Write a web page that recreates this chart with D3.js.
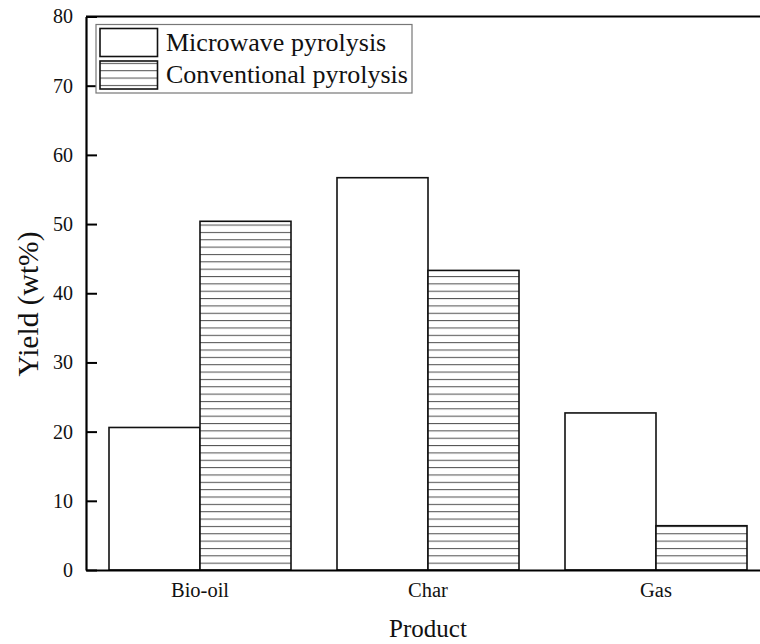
<!DOCTYPE html>
<html>
<head>
<meta charset="utf-8">
<script src="https://cdn.jsdelivr.net/npm/d3@7/dist/d3.min.js"></script>
<style>
  html, body { margin: 0; padding: 0; background: #fff; }
  svg { display: block; font-family: "Liberation Serif", "Times New Roman", serif; }
</style>
</head>
<body>
<svg id="chart" width="760" height="644"></svg>
<script>
const categories = ["Bio-oil", "Char", "Gas"];
const seriesNames = ["Microwave pyrolysis", "Conventional pyrolysis"];
const microwave = [20.6, 56.7, 22.7];
const conventional = [50.4, 43.3, 6.4];
const yTicks = [0, 10, 20, 30, 40, 50, 60, 70, 80];

(function () {
const svg = d3.select("#chart");
const mLeft = 86, mRight = 770, mTop = 16.5, mBottom = 570;
const FF = "Liberation Serif, Times New Roman, serif";

const defs = svg.append("defs");
const pat = defs.append("pattern")
  .attr("id", "hatch").attr("patternUnits", "userSpaceOnUse")
  .attr("x", 0).attr("y", 570 - 7.35 * 6).attr("width", 20).attr("height", 7.35);
pat.append("rect").attr("width", 20).attr("height", 7.35).attr("fill", "#fff");
pat.append("line").attr("x1", 0).attr("x2", 20).attr("y1", 0.5).attr("y2", 0.5)
  .attr("stroke", "#555").attr("stroke-width", 1.1);

const x0 = d3.scaleBand().domain(categories).range([mLeft, mRight]).paddingInner(0).paddingOuter(0);
const x1 = d3.scaleBand().domain(seriesNames).range([23, x0.bandwidth() - 23]).paddingInner(0).paddingOuter(0);
const y = d3.scaleLinear().domain([0, 80]).range([mBottom, mTop]);

const data = [microwave, conventional];
const g = svg.append("g");
categories.forEach((c, i) => {
  seriesNames.forEach((s, k) => {
    const v = data[k][i];
    g.append("rect")
      .attr("x", x0(c) + x1(s))
      .attr("y", y(v))
      .attr("width", x1.bandwidth())
      .attr("height", y(0) - y(v))
      .attr("fill", k === 0 ? "#fff" : "url(#hatch)")
      .attr("stroke", "#111").attr("stroke-width", 1.6);
  });
});

svg.append("line").attr("x1", mLeft).attr("x2", mRight).attr("y1", mTop).attr("y2", mTop)
  .attr("stroke", "#000").attr("stroke-width", 2);

const yAxis = d3.axisLeft(y).tickValues(yTicks).tickSizeInner(-11).tickSizeOuter(0).tickPadding(13);
const ya = svg.append("g").attr("transform", `translate(${mLeft},0)`).call(yAxis)
  .attr("font-size", 20).attr("font-family", FF);
ya.select(".domain").attr("stroke", "#000").attr("stroke-width", 2.2);
ya.selectAll(".tick line").attr("stroke", "#000").attr("stroke-width", 2);
ya.selectAll(".tick text").attr("fill", "#111");

const xAxis = d3.axisBottom(x0).tickSize(0).tickPadding(12);
const xa = svg.append("g").attr("transform", `translate(0,${mBottom})`).call(xAxis)
  .attr("font-size", 20.5).attr("font-family", FF);
xa.select(".domain").attr("stroke", "#000").attr("stroke-width", 2.2);
xa.selectAll(".tick text").attr("fill", "#111");

svg.append("text").attr("x", 428).attr("y", 637).attr("text-anchor", "middle")
  .attr("font-size", 25).attr("fill", "#111").text("Product");
svg.append("text").attr("transform", "translate(38,304) rotate(-90)").attr("text-anchor", "middle")
  .attr("font-size", 29.5).attr("fill", "#111").text("Yield (wt%)");

const lg = svg.append("g");
lg.append("rect").attr("x", 96).attr("y", 24.5).attr("width", 316).attr("height", 68.5)
  .attr("fill", "#fff").attr("stroke", "#777").attr("stroke-width", 1.2);
seriesNames.forEach((s, k) => {
  const yy = 28.5 + k * 32.5;
  lg.append("rect").attr("x", 100).attr("y", yy).attr("width", 57.5).attr("height", 28)
    .attr("fill", k === 0 ? "#fff" : "url(#hatch)").attr("stroke", "#111").attr("stroke-width", 1.6);
  lg.append("text").attr("x", 166).attr("y", yy + 22).attr("font-size", 26).attr("fill", "#111").text(s);
});
})();
</script>
</body>
</html>
